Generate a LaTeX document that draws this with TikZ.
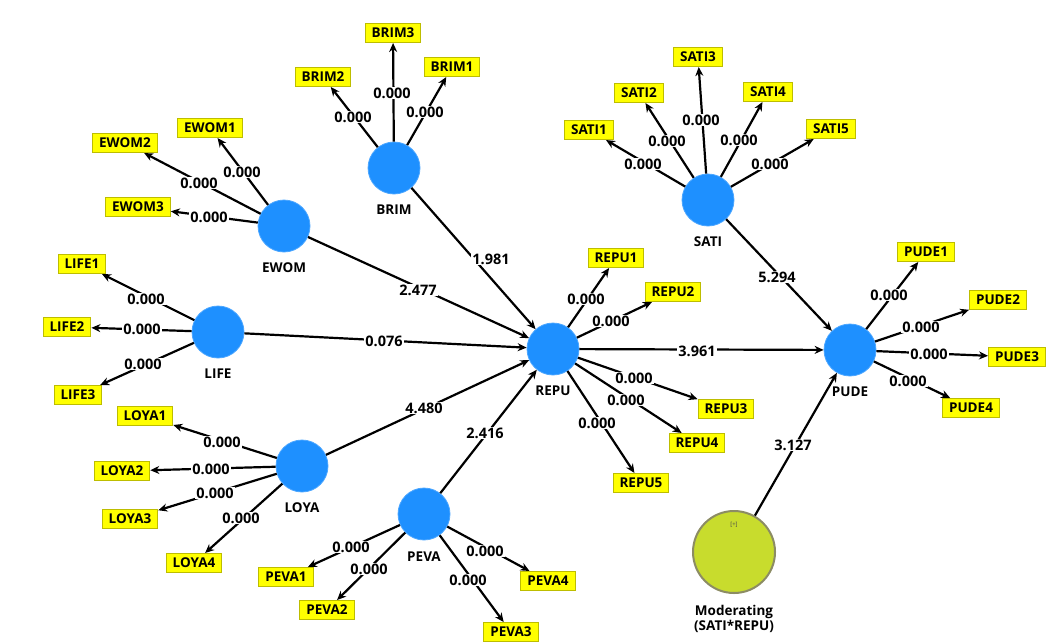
\documentclass[tikz,border=0pt]{standalone}
\usepackage{fontspec}
\setmainfont{Open Sans}
\usetikzlibrary{arrows.meta}
\definecolor{lvblue}{HTML}{1E90FF}
\definecolor{boxyellow}{HTML}{FFFF00}
\definecolor{boxborder}{HTML}{BDBD00}
\definecolor{modgreen}{HTML}{C8DC2D}
\definecolor{modborder}{HTML}{8C8C64}
\tikzset{
  lv/.style={circle, fill=lvblue, draw=lvblue!80!white, line width=0.8pt, minimum size=52pt, inner sep=0pt},
  ind/.style={fill=boxyellow, draw=boxborder, line width=1pt, font=\fontsize{13.5}{15}\selectfont\bfseries, minimum height=19pt, inner xsep=6.5pt, inner ysep=0pt},
  lvname/.style={font=\fontsize{13.5}{15}\selectfont\bfseries},
  wt/.style={fill=white, inner xsep=1.5pt, inner ysep=1pt, font=\fontsize{14.5}{16}\selectfont\bfseries},
  conn/.style={line width=2.2pt, -{Stealth[length=9pt,width=8pt]}},
}
\begin{document}
\begin{tikzpicture}[x=1pt,y=-1pt]
\useasboundingbox (0,0) rectangle (1048,643);
% latent variables
\node[lv] (BRIM) at (394,168) {};
\node[lv] (EWOM) at (284,226) {};
\node[lv] (SATI) at (708,200) {};
\node[lv] (LIFE) at (218,332) {};
\node[lv] (LOYA) at (302,466) {};
\node[lv] (PEVA) at (424,514) {};
\node[lv] (REPU) at (553,349) {};
\node[lv] (PUDE) at (850,350) {};
\node[circle, fill=modgreen, draw=modborder, line width=2pt, minimum size=82pt, inner sep=0pt] (MOD) at (734,552) {};
\node[font=\fontsize{6}{7}\selectfont, text=black!70] (MODplus) at (734,525) {[+]};
% latent names
\node[lvname] (nBRIM) at (394,210) {BRIM};
\node[lvname] (nEWOM) at (284,268) {EWOM};
\node[lvname] (nSATI) at (708,242) {SATI};
\node[lvname] (nLIFE) at (218,374) {LIFE};
\node[lvname] (nLOYA) at (302,508) {LOYA};
\node[lvname] (nPEVA) at (424,557) {PEVA};
\node[lvname] (nREPU) at (553,391) {REPU};
\node[lvname] (nPUDE) at (850,392) {PUDE};
\node[lvname, align=center] (nMOD) at (734,619) {Moderating\\[0pt](SATI*REPU)};
% indicators
\node[ind] (BRIM3) at (393,33) {BRIM3};
\node[ind] (BRIM2) at (323,77) {BRIM2};
\node[ind] (BRIM1) at (452,67) {BRIM1};
\node[ind] (EWOM1) at (210,128) {EWOM1};
\node[ind] (EWOM2) at (125,143) {EWOM2};
\node[ind] (EWOM3) at (138,207) {EWOM3};
\node[ind] (SATI3) at (698,57) {SATI3};
\node[ind] (SATI2) at (639,93) {SATI2};
\node[ind] (SATI4) at (768,92) {SATI4};
\node[ind] (SATI1) at (589,130) {SATI1};
\node[ind] (SATI5) at (831,129) {SATI5};
\node[ind] (LIFE1) at (82,264) {LIFE1};
\node[ind] (LIFE2) at (67,327) {LIFE2};
\node[ind] (LIFE3) at (78,395) {LIFE3};
\node[ind] (LOYA1) at (145,416) {LOYA1};
\node[ind] (LOYA2) at (122,471) {LOYA2};
\node[ind] (LOYA3) at (130,519) {LOYA3};
\node[ind] (LOYA4) at (194,563) {LOYA4};
\node[ind] (PEVA1) at (286,577) {PEVA1};
\node[ind] (PEVA2) at (327,610) {PEVA2};
\node[ind] (PEVA3) at (511,632) {PEVA3};
\node[ind] (PEVA4) at (548,581) {PEVA4};
\node[ind] (REPU1) at (616,258) {REPU1};
\node[ind] (REPU2) at (673,292) {REPU2};
\node[ind] (REPU3) at (726,409) {REPU3};
\node[ind] (REPU4) at (697,443) {REPU4};
\node[ind] (REPU5) at (641,483) {REPU5};
\node[ind] (PUDE1) at (926,252) {PUDE1};
\node[ind] (PUDE2) at (998,300) {PUDE2};
\node[ind] (PUDE3) at (1017,357) {PUDE3};
\node[ind] (PUDE4) at (971,408) {PUDE4};
% outer model arrows
\foreach \lv/\list in {BRIM/{BRIM1,BRIM2,BRIM3}, EWOM/{EWOM1,EWOM2,EWOM3}, SATI/{SATI1,SATI2,SATI3,SATI4,SATI5}, LIFE/{LIFE1,LIFE2,LIFE3}, LOYA/{LOYA1,LOYA2,LOYA3,LOYA4}, PEVA/{PEVA1,PEVA2,PEVA3,PEVA4}, REPU/{REPU1,REPU2,REPU3,REPU4,REPU5}, PUDE/{PUDE1,PUDE2,PUDE3,PUDE4}}{
  \foreach \ind in \list { \draw[conn] (\lv) -- (\ind); }
}
% inner model arrows
\draw[conn] (BRIM) -- (REPU);
\draw[conn] (EWOM) -- (REPU);
\draw[conn] (LIFE) -- (REPU);
\draw[conn] (LOYA) -- (REPU);
\draw[conn] (PEVA) -- (REPU);
\draw[conn] (REPU) -- (PUDE);
\draw[conn] (SATI) -- (PUDE);
\draw[conn] (MOD) -- (PUDE);
% outer weights
\node[wt] (wBRIM3) at (392,93) {0.000};
\node[wt] (wBRIM2) at (353,117) {0.000};
\node[wt] (wBRIM1) at (425,112) {0.000};
\node[wt] (wEWOM1) at (242,172) {0.000};
\node[wt, inner xsep=4pt] (wEWOM2) at (199,183) {0.000};
\node[wt] (wEWOM3) at (209,217) {0.000};
\node[wt] (wSATI3) at (701,120) {0.000};
\node[wt] (wSATI2) at (667,141) {0.000};
\node[wt] (wSATI4) at (739,140) {0.000};
\node[wt] (wSATI1) at (643,164) {0.000};
\node[wt] (wSATI5) at (770,164) {0.000};
\node[wt] (wLIFE1) at (146,299) {0.000};
\node[wt] (wLIFE2) at (142,329) {0.000};
\node[wt] (wLIFE3) at (143,364) {0.000};
\node[wt] (wLOYA1) at (222,442) {0.000};
\node[wt] (wLOYA2) at (211,469) {0.000};
\node[wt] (wLOYA3) at (215,493) {0.000};
\node[wt] (wLOYA4) at (241,518) {0.000};
\node[wt] (wPEVA1) at (351,547) {0.000};
\node[wt] (wPEVA2) at (369,569) {0.000};
\node[wt] (wPEVA3) at (468,580) {0.000};
\node[wt] (wPEVA4) at (485,551) {0.000};
\node[wt] (wREPU1) at (586,299) {0.000};
\node[wt] (wREPU2) at (611,321) {0.000};
\node[wt] (wREPU3) at (634,378) {0.000};
\node[wt] (wREPU4) at (626,400) {0.000};
\node[wt] (wREPU5) at (597,423) {0.000};
\node[wt] (wPUDE1) at (889,295) {0.000};
\node[wt] (wPUDE2) at (921,327) {0.000};
\node[wt] (wPUDE3) at (929,354) {0.000};
\node[wt] (wPUDE4) at (908,381) {0.000};
% path coefficients
\node[wt] (pBRIM) at (491,259) {1.981};
\node[wt] (pEWOM) at (418,290) {2.477};
\node[wt] (pLIFE) at (384,341) {0.076};
\node[wt] (pLOYA) at (424,408) {4.480};
\node[wt] (pPEVA) at (485,433) {2.416};
\node[wt] (pREPU) at (697,351) {3.961};
\node[wt] (pSATI) at (777,277) {5.294};
\node[wt] (pMOD) at (793,445) {3.127};
\end{tikzpicture}
\end{document}
